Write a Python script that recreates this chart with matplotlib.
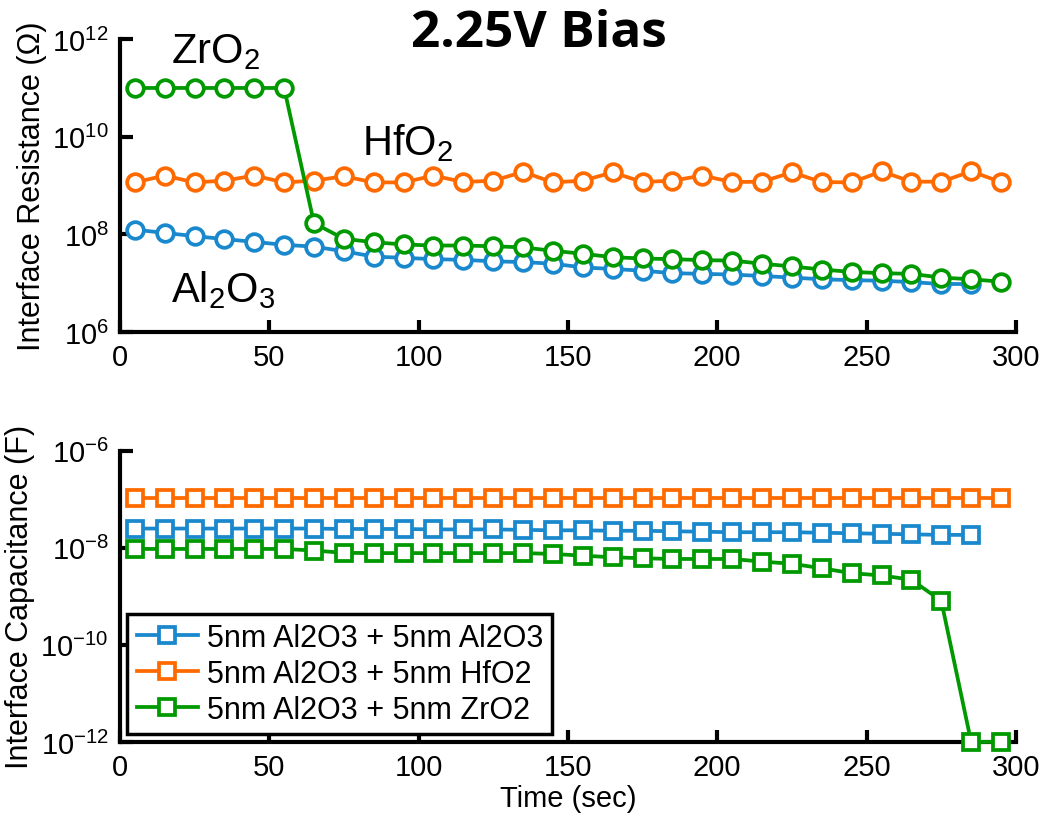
import matplotlib.pyplot as plt
import numpy as np

t = [5, 15, 25, 35, 45, 55, 65, 75, 85, 95, 105, 115, 125, 135, 145,
     155, 165, 175, 185, 195, 205, 215, 225, 235, 245, 255, 265, 275, 285, 295]

# interface resistance (ohm)
r_al = [1.25e8, 1.07e8, 9.2e7, 8.0e7, 7.0e7, 6.1e7, 5.6e7, 4.5e7, 3.5e7, 3.3e7,
        3.1e7, 3.0e7, 2.8e7, 2.7e7, 2.5e7, 2.1e7, 1.95e7, 1.8e7, 1.6e7, 1.55e7,
        1.5e7, 1.4e7, 1.3e7, 1.2e7, 1.15e7, 1.12e7, 1.05e7, 9.6e6, 9.6e6]
r_hf = [1.16e9, 1.6e9, 1.16e9, 1.26e9, 1.6e9, 1.16e9, 1.26e9, 1.55e9, 1.16e9, 1.16e9,
        1.6e9, 1.18e9, 1.26e9, 1.9e9, 1.16e9, 1.26e9, 1.86e9, 1.18e9, 1.26e9, 1.6e9,
        1.18e9, 1.2e9, 1.86e9, 1.18e9, 1.16e9, 1.95e9, 1.2e9, 1.2e9, 1.95e9, 1.18e9]
r_zr = [1e11, 1e11, 1e11, 1e11, 1e11, 1e11, 1.7e8, 8.1e7, 6.9e7, 6.2e7,
        5.9e7, 5.9e7, 5.7e7, 5.4e7, 4.6e7, 4.0e7, 3.4e7, 3.2e7, 3.1e7, 2.96e7,
        2.9e7, 2.5e7, 2.2e7, 1.9e7, 1.7e7, 1.6e7, 1.55e7, 1.3e7, 1.2e7, 1.07e7]

# interface capacitance (F)
c_al = [2.5e-8, 2.5e-8, 2.5e-8, 2.5e-8, 2.5e-8, 2.5e-8, 2.5e-8, 2.45e-8, 2.45e-8, 2.45e-8,
        2.4e-8, 2.4e-8, 2.4e-8, 2.35e-8, 2.3e-8, 2.3e-8, 2.25e-8, 2.25e-8, 2.2e-8, 2.15e-8,
        2.1e-8, 2.1e-8, 2.1e-8, 2.05e-8, 2.0e-8, 1.95e-8, 1.9e-8, 1.85e-8, 1.85e-8]
c_hf = [1.05e-7] * 30
c_zr = [9.5e-9, 9.5e-9, 9.5e-9, 9.5e-9, 9.5e-9, 9.5e-9, 8.8e-9, 7.9e-9, 7.8e-9, 7.8e-9,
        7.8e-9, 7.8e-9, 7.8e-9, 7.8e-9, 7.5e-9, 6.9e-9, 6.4e-9, 6.1e-9, 5.9e-9, 5.9e-9,
        5.9e-9, 5.2e-9, 4.7e-9, 3.8e-9, 3.0e-9, 2.7e-9, 2.2e-9, 8.1e-10, 1e-12, 1e-12]

labels = ['5nm Al2O3 + 5nm Al2O3', '5nm Al2O3 + 5nm HfO2', '5nm Al2O3 + 5nm ZrO2']
colors = ['#1A88CC', '#FF6A00', '#009900']

plt.rcParams['font.family'] = ['Liberation Sans', 'DejaVu Sans']
plt.rcParams['mathtext.fontset'] = 'custom'
plt.rcParams['mathtext.rm'] = 'Liberation Sans'

fig = plt.figure(figsize=(10.42, 8.2), dpi=100)
a1 = fig.add_axes([0.115, 0.594, 0.860, 0.357])
a2 = fig.add_axes([0.115, 0.094, 0.860, 0.355])


def style(ax):
    for s in ['top', 'right']:
        ax.spines[s].set_visible(False)
    for s in ['left', 'bottom']:
        ax.spines[s].set_linewidth(3)
    ax.tick_params(direction='in', width=3, length=9, labelsize=21, pad=8)
    ax.tick_params(which='minor', length=0)
    ax.set_xlim(0, 300)
    ax.set_xticks([0, 50, 100, 150, 200, 250, 300])


# resistance
a1.plot(t[:29], r_al, '-o', color=colors[0], lw=2.7, ms=12, mew=2.7, mfc='white')
a1.plot(t, r_hf, '-o', color=colors[1], lw=2.7, ms=12, mew=2.7, mfc='white')
a1.plot(t, r_zr, '-o', color=colors[2], lw=2.7, ms=12, mew=2.7, mfc='white')
a1.set_yscale('log')
a1.set_ylim(1e6, 1e12)
a1.set_yticks([1e6, 1e8, 1e10, 1e12])
a1.set_yticklabels(['$10^6$', '$10^8$', '$10^{10}$', '$10^{12}$'])
a1.set_ylabel('Interface Resistance (Ω)', fontsize=22)
style(a1)
a1.text(17, 3.4e11, 'ZrO$_2$', fontsize=30)
a1.text(81, 4.4e9, 'HfO$_2$', fontsize=30)
a1.text(17, 4.3e6, 'Al$_2$O$_3$', fontsize=30)

# capacitance
a2.plot(t[:29], c_al, '-s', color=colors[0], lw=2.7, ms=11, mew=2.7, mfc='white', label=labels[0])
a2.plot(t, c_hf, '-s', color=colors[1], lw=2.7, ms=11, mew=2.7, mfc='white', label=labels[1])
a2.plot(t, c_zr, '-s', color=colors[2], lw=2.7, ms=11, mew=2.7, mfc='white', label=labels[2],
        clip_on=False, zorder=5)
a2.set_yscale('log')
a2.set_ylim(1e-12, 1e-6)
a2.set_yticks([1e-12, 1e-10, 1e-8, 1e-6])
a2.set_yticklabels(['$10^{-12}$', '$10^{-10}$', '$10^{-8}$', '$10^{-6}$'])
a2.set_ylabel('Interface Capacitance (F)', fontsize=22)
a2.set_xlabel('Time (sec)', fontsize=21, labelpad=2)
style(a2)
leg = a2.legend(loc='lower left', fontsize=22, frameon=True, fancybox=False, edgecolor='black',
                framealpha=1, borderaxespad=0.25, handlelength=2.0, labelspacing=0.2,
                handletextpad=0.3, borderpad=0.3)
leg.get_frame().set_linewidth(2.5)

fig.text(0.517, 0.943, '2.25V Bias', fontsize=37, fontweight='bold', family='Open Sans',
         ha='center', va='baseline')

plt.savefig('out.png', dpi=100)
